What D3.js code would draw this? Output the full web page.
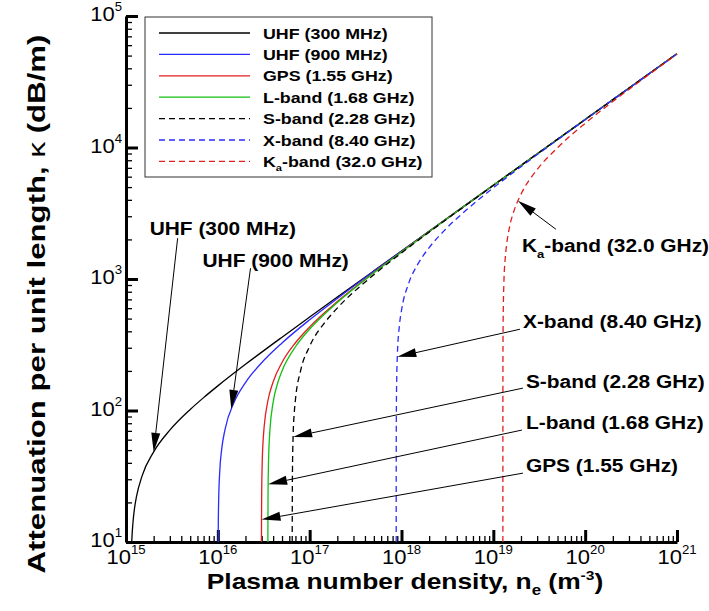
<!DOCTYPE html>
<html>
<head>
<meta charset="utf-8">
<script src="https://cdn.jsdelivr.net/npm/d3@7"></script>
<style>
  body { margin: 0; background: #fff; }
  svg { display: block; font-family: "Liberation Sans", Arial, sans-serif; }
</style>
</head>
<body>
<svg id="chart"></svg>
<script>
// each point: [plasma number density n_e (m^-3), attenuation kappa (dB/m)]
const uhf300 = [[1.154e15, 10], [1.17e15, 11.9], [1.2e15, 14.9], [1.25e15, 18.9], [1.3e15, 22.1],
  [1.5e15, 32.0], [2e15, 48.5], [3e15, 70.9], [5e15, 101.8], [7e15, 125.3], [1e16, 153.9],
  [2e16, 224.4], [5e16, 361.1], [1e17, 513.5], [2e17, 728.3], [5e17, 1153.5], [1e18, 1632.2],
  [1e19, 5164], [1e20, 16331], [1e21, 51643]];
const uhf900 = [[1.00855e16, 10], [1.01e16, 11.8], [1.02e16, 20.1], [1.05e16, 34.7], [1.1e16, 50.4],
  [1.2e16, 72.2], [1.5e16, 114.9], [2e16, 162.9], [3e16, 230.7], [5e16, 326.4], [1e17, 489.8],
  [2e17, 711.8], [5e17, 1143.1], [1e18, 1624.9], [1e19, 5161.7], [1e20, 16330], [1e21, 51643]];
const gps = [[2.9855e16, 10], [2.99e16, 14.8], [3e16, 22.0], [3.05e16, 42.7], [3.1e16, 56.2],
  [3.2e16, 76.3], [3.5e16, 117.6], [4e16, 164.8], [5e16, 232.0], [7e16, 327.4], [1e17, 432.6],
  [2e17, 673.7], [5e17, 1119.8], [1e18, 1608.6], [1e19, 5156.6], [1e20, 16329], [1e21, 51643]];
const lBand = [[3.5055e16, 10], [3.52e16, 22.1], [3.55e16, 35.9], [3.6e16, 51.2], [3.7e16, 72.7],
  [4e16, 115.3], [4.5e16, 163.2], [5e16, 199.9], [7e16, 305.4], [1e17, 416.3], [2e17, 663.3],
  [5e17, 1113.6], [1e18, 1604.2], [1e19, 5155.2], [1e20, 16328], [1e21, 51642]];
const sBand = [[6.4551e16, 10], [6.47e16, 22.3], [6.5e16, 36.0], [6.6e16, 63.0], [6.8e16, 96.4],
  [7e16, 121.0], [8e16, 203.2], [1e17, 307.6], [1.5e17, 477.5], [2e17, 601.1], [5e17, 1077.7],
  [1e18, 1579.5], [2e18, 2272.0], [1e19, 5147.6], [1e20, 16326], [1e21, 51641]];
const xBand = [[8.7547e17, 10], [8.758e17, 31.2], [8.77e17, 64.6], [8.8e17, 110.3], [8.9e17, 197.1],
  [9e17, 256.0], [9.5e17, 446.0], [1e18, 576.4], [1.2e18, 930.4], [1.5e18, 1290.6], [2e18, 1731.8],
  [3e18, 2380.4], [5e18, 3316.7], [1e19, 4933.1], [2e19, 7141.8], [5e19, 11446], [1e20, 16259],
  [2e20, 23045], [5e20, 36485], [1e21, 51620]];
const kaBand = [[1.27049e19, 10], [1.2706e19, 53.5], [1.271e19, 116.3], [1.273e19, 258.6],
  [1.275e19, 346.7], [1.28e19, 503.5], [1.3e19, 887.1], [1.35e19, 1456.2], [1.4e19, 1858.5],
  [1.5e19, 2474.1], [1.7e19, 3384.5], [2e19, 4410.9], [3e19, 6791.6], [5e19, 9973.3],
  [1e20, 15258], [2e20, 22350], [5e20, 36050], [1e21, 51314]];

// label parts: [main, subscript, rest]
const seriesLabels = [["UHF (300 MHz)"], ["UHF (900 MHz)"], ["GPS (1.55 GHz)"], ["L-band (1.68 GHz)"],
  ["S-band (2.28 GHz)"], ["X-band (8.40 GHz)"], ["K", "a", "-band (32.0 GHz)"]];
const seriesData = [uhf300, uhf900, gps, lBand, sBand, xBand, kaBand];

// callouts: arrow tip on the curve and arrow tail, both in data units
const calloutTips = [[2e15, 48.5], [1.4e16, 102.7], [2.99e16, 14.8], [3.53e16, 27.5],
  [6.6e16, 63.0], [9e17, 256.0], [1.85e19, 3931]];
const calloutTails = [[3.65e15, 2042], [2.27e16, 1208], [2.1e19, 33.4], [2.05e19, 71],
  [2.1e19, 148], [1.95e19, 415], [4.8e19, 2390]];

const xMajor = [1e15, 1e16, 1e17, 1e18, 1e19, 1e20, 1e21];
const yMajor = [1e1, 1e2, 1e3, 1e4, 1e5];

// styles
const colors = ["#000000", "#2b2bff", "#e01e1e", "#12c012", "#000000", "#2b2bff", "#e01e1e"];
const dashed = [false, false, false, false, true, true, true];
// text offset of each callout label from its arrow tail (px)
const labelOffsets = [[-28, -3], [-48, -1], [3, -1], [4, -1], [3, 0], [3, -1], [-34, 23]];

const W = 709, H = 611;
const margin = { top: 16, right: 32, bottom: 69, left: 126 };
const width = W - margin.left - margin.right;
const height = H - margin.top - margin.bottom;

const svg = d3.select("#chart").attr("width", W).attr("height", H);
const chart = svg.append("g").attr("transform", `translate(${margin.left},${margin.top})`);

const x = d3.scaleLog().domain([1e15, 1e21]).range([0, width]);
const y = d3.scaleLog().domain([10, 1e5]).range([height, 0]);

// text is a bit wider than Arial in the original, so stretch it horizontally
function addText(parent, px, py, sx, size, weight, anchor, rot) {
  return parent.append("text")
    .attr("transform", `translate(${px},${py})${rot ? " rotate(" + rot + ")" : ""} scale(${sx},1)`)
    .attr("font-size", size)
    .attr("font-weight", weight)
    .attr("text-anchor", anchor || "start")
    .attr("fill", "#000");
}
function writeLabel(t, parts, size) {
  t.append("tspan").text(parts[0]);
  if (parts.length > 1) {
    t.append("tspan").attr("font-size", size * 0.62).attr("dy", size * 0.28).text(parts[1]);
    t.append("tspan").attr("dy", -size * 0.28).text(parts[2]);
  }
}

// axes: minor then major ticks, pointing inward
const xMinor = x.ticks().filter(v => !xMajor.includes(v));
const yMinor = y.ticks().filter(v => !yMajor.includes(v));

const xMinorG = chart.append("g").attr("transform", `translate(0,${height})`)
  .call(d3.axisBottom(x).tickValues(xMinor).tickSize(-6).tickFormat(""));
const yMinorG = chart.append("g")
  .call(d3.axisLeft(y).tickValues(yMinor).tickSize(-6).tickFormat(""));
[xMinorG, yMinorG].forEach(a => {
  a.select(".domain").remove();
  a.selectAll("line").attr("stroke", "#000").attr("stroke-width", 1.3);
});

const xAxisG = chart.append("g").attr("transform", `translate(0,${height})`)
  .call(d3.axisBottom(x).tickValues(xMajor).tickSize(-12).tickSizeOuter(0).tickFormat(""));
const yAxisG = chart.append("g")
  .call(d3.axisLeft(y).tickValues(yMajor).tickSize(-12).tickSizeOuter(0).tickFormat(""));
[xAxisG, yAxisG].forEach(a => {
  a.select(".domain").attr("stroke", "#000").attr("stroke-width", 3);
  a.selectAll("line").attr("stroke", "#000").attr("stroke-width", 3);
});

// tick labels 10^n
xMajor.forEach(v => {
  const t = addText(chart, x(v), height + 22, 1.1, 20, "normal", "middle");
  t.append("tspan").text("10");
  t.append("tspan").attr("font-size", 12).attr("dy", -10).text(Math.round(Math.log10(v)));
});
yMajor.forEach(v => {
  const t = addText(chart, -4, y(v) + 5, 1.1, 20, "normal", "end");
  t.append("tspan").text("10");
  t.append("tspan").attr("font-size", 12).attr("dy", -10).text(Math.round(Math.log10(v)));
});

// axis titles
const xt = addText(svg, 405, 589, 1.2, 22, "bold", "middle");
xt.append("tspan").text("Plasma number density, n");
xt.append("tspan").attr("font-size", 14).attr("dy", 6).text("e");
xt.append("tspan").attr("dy", -6).text(" (m");
xt.append("tspan").attr("font-size", 13).attr("dy", -9).text("-3");
xt.append("tspan").attr("dy", 9).text(")");

const yt = addText(svg, 45, 304, 1.3, 24, "bold", "middle", -90);
yt.append("tspan").text("Attenuation per unit length, ");
yt.append("tspan").attr("font-weight", "normal").text("\u03ba");
yt.append("tspan").text(" (dB/m)");

// curves
const line = d3.line()
  .x(d => x(d[0]))
  .y(d => y(d[1]))
  .curve(d3.curveMonotoneX);

chart.selectAll(".curve")
  .data(seriesData)
  .join("path")
    .attr("class", "curve")
    .attr("fill", "none")
    .attr("stroke", (d, i) => colors[i])
    .attr("stroke-width", 1.3)
    .attr("stroke-dasharray", (d, i) => dashed[i] ? "6,4" : null)
    .attr("d", line);

// callouts with arrows
calloutTips.forEach((tipD, i) => {
  const tip = [x(tipD[0]), y(tipD[1])];
  const tail = [x(calloutTails[i][0]), y(calloutTails[i][1])];
  const ang = Math.atan2(tip[1] - tail[1], tip[0] - tail[0]);
  const L = 19, hw = 4.5;
  const base = [tip[0] - L * Math.cos(ang), tip[1] - L * Math.sin(ang)];
  const nx = -Math.sin(ang), ny = Math.cos(ang);
  chart.append("line")
    .attr("x1", tail[0]).attr("y1", tail[1])
    .attr("x2", base[0]).attr("y2", base[1])
    .attr("stroke", "#000").attr("stroke-width", 1);
  chart.append("path")
    .attr("d", `M${tip[0]},${tip[1]}L${base[0] + hw * nx},${base[1] + hw * ny}L${base[0] - hw * nx},${base[1] - hw * ny}Z`)
    .attr("fill", "#000");
  const t = addText(chart, tail[0] + labelOffsets[i][0], tail[1] + labelOffsets[i][1], 1.1, 19, "bold");
  writeLabel(t, seriesLabels[i], 19);
});

// legend
const legend = svg.append("g").attr("transform", "translate(145,17)");
legend.append("rect")
  .attr("width", 287).attr("height", 160)
  .attr("fill", "#fff").attr("stroke", "#333").attr("stroke-width", 1);
seriesLabels.forEach((lab, i) => {
  const cy = 16 + i * 21.4;
  legend.append("line")
    .attr("x1", 14).attr("x2", 105).attr("y1", cy).attr("y2", cy)
    .attr("stroke", colors[i]).attr("stroke-width", 1.3)
    .attr("stroke-dasharray", dashed[i] ? "6,4" : null);
  const t = addText(legend, 118, cy + 5.5, 1.15, 15.5, "bold");
  writeLabel(t, lab, 15.5);
});
</script>
</body>
</html>
